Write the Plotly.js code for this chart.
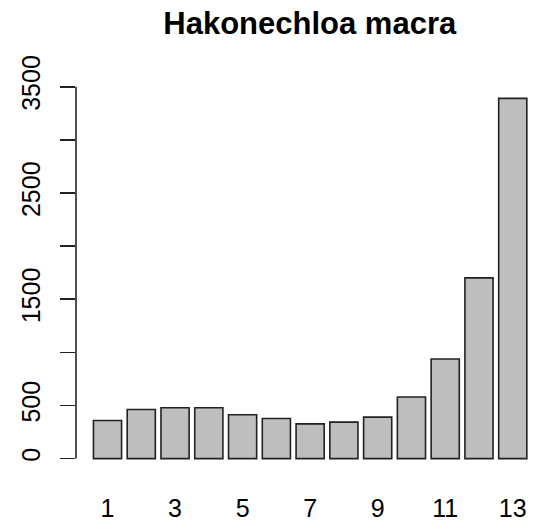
<!DOCTYPE html>
<html>
<head>
<meta charset="utf-8">
<script src="https://cdn.plot.ly/plotly-3.0.1.min.js"></script>
<style>html,body{margin:0;padding:0;background:#fff;}</style>
</head>
<body>
<div id="chart" style="width:535px;height:525px;"></div>
<script>
const categories = [1, 2, 3, 4, 5, 6, 7, 8, 9, 10, 11, 12, 13];
const values = [358, 462, 478, 478, 412, 377, 327, 343, 390, 579, 937, 1701, 3390];
const xTickVals = [1, 3, 5, 7, 9, 11, 13];
const xTickText = ['1', '3', '5', '7', '9', '11', '13'];
const yTickVals = [0, 500, 1000, 1500, 2000, 2500, 3000, 3500];
const yTickText = ['0', '500', '', '1500', '', '2500', '', '3500'];
const titleText = 'Hakonechloa macra';

const font = 'Liberation Sans, Arial, sans-serif';

const trace = {
  type: 'bar',
  x: categories,
  y: values,
  marker: {color: '#BEBEBE', line: {color: '#222222', width: 1.6}},
  hoverinfo: 'skip'
};

const layout = {
  width: 535,
  height: 525,
  margin: {l: 76, r: 0, t: 84, b: 52, pad: 0},
  paper_bgcolor: '#ffffff',
  plot_bgcolor: '#ffffff',
  showlegend: false,
  bargap: 0.1667,
  font: {family: font, color: '#000000', size: 25},
  title: {
    text: '<b>' + titleText + '</b>',
    font: {family: font, size: 31, color: '#000000'},
    xref: 'container', yref: 'container',
    x: 0.579, xanchor: 'center',
    y: 0.956, yanchor: 'middle'
  },
  xaxis: {
    range: [0.067, 13.659],
    tickmode: 'array',
    tickvals: xTickVals,
    ticktext: xTickText,
    ticks: '',
    showgrid: false,
    zeroline: false,
    showline: false,
    ticklabelstandoff: 18,
    tickfont: {family: font, size: 25, color: '#000000'}
  },
  yaxis: {
    range: [-135.6, 3525.6],
    tickmode: 'array',
    tickvals: yTickVals,
    ticktext: yTickText,
    ticks: 'outside',
    ticklen: 15,
    tickwidth: 1.6,
    tickcolor: '#222222',
    tickangle: -90,
    showgrid: false,
    zeroline: false,
    showline: false,
    ticklabelstandoff: 10,
    tickfont: {family: font, size: 25, color: '#000000'}
  },
  shapes: [{
    type: 'line', xref: 'paper', yref: 'y',
    x0: 0, x1: 0, y0: yTickVals[0], y1: yTickVals[yTickVals.length - 1],
    line: {color: '#222222', width: 1.6}
  }]
};

Plotly.newPlot('chart', [trace], layout, {displayModeBar: false, staticPlot: true});
</script>
</body>
</html>
